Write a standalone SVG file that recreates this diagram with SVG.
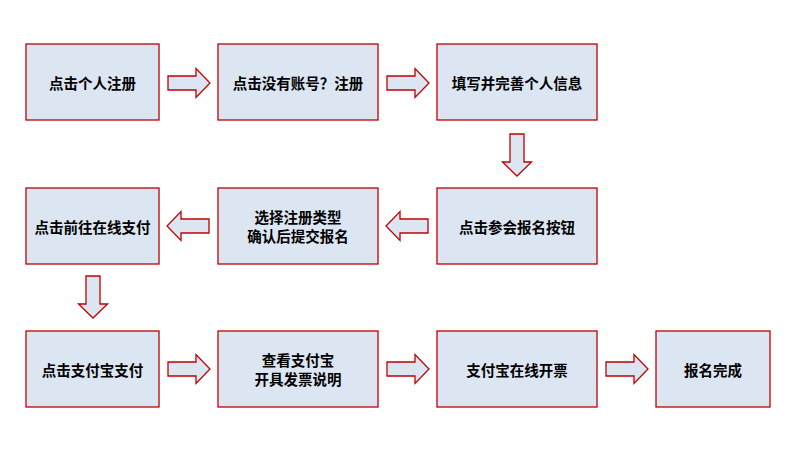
<svg xmlns="http://www.w3.org/2000/svg" xmlns:xlink="http://www.w3.org/1999/xlink" width="800" height="450" viewBox="0 0 800 450">
<style>
.box{fill:#dce6f2;stroke:#c00000;stroke-width:1.3}
.t{font-family:"Noto Sans CJK SC","Liberation Sans",sans-serif;font-size:14.5px;font-weight:bold;fill:#000;text-anchor:middle;dominant-baseline:central}
.arr{fill:#dce6f2;stroke:#c00000;stroke-width:1.3;stroke-linejoin:miter}
</style>
<defs>
<path id="ar" d="M0,-7 H28 V-14.5 L42,0 L28,14.5 V7 H0 Z"/>
</defs>
<rect width="800" height="450" fill="#fff"/>
<g id="connectors">
<use href="#ar" class="arr" transform="translate(168,83)"/>
<use href="#ar" class="arr" transform="translate(387,83)"/>
<use href="#ar" class="arr" transform="translate(517,134) rotate(90)"/>
<use href="#ar" class="arr" transform="translate(428,226) rotate(180)"/>
<use href="#ar" class="arr" transform="translate(209,226) rotate(180)"/>
<use href="#ar" class="arr" transform="translate(93,276) rotate(90)"/>
<use href="#ar" class="arr" transform="translate(168,369)"/>
<use href="#ar" class="arr" transform="translate(387,369)"/>
<use href="#ar" class="arr" transform="translate(606,369)"/>
</g>
<g id="n1"><rect class="box" x="26" y="44" width="133" height="76"/><text class="t" x="92.5" y="82">点击个人注册</text></g>
<g id="n2"><rect class="box" x="218" y="44" width="160" height="76"/><text class="t" x="298" y="82">点击没有账号？注册</text></g>
<g id="n3"><rect class="box" x="437" y="44" width="160" height="76"/><text class="t" x="517" y="82">填写并完善个人信息</text></g>
<g id="n4"><rect class="box" x="437" y="188" width="160" height="76"/><text class="t" x="517" y="226">点击参会报名按钮</text></g>
<g id="n5"><rect class="box" x="218" y="188" width="160" height="76"/><text class="t" x="298" y="216">选择注册类型</text><text class="t" x="298" y="235">确认后提交报名</text></g>
<g id="n6"><rect class="box" x="26" y="188" width="133" height="76"/><text class="t" x="92.5" y="226">点击前往在线支付</text></g>
<g id="n7"><rect class="box" x="26" y="331" width="133" height="76"/><text class="t" x="92.5" y="369">点击支付宝支付</text></g>
<g id="n8"><rect class="box" x="218" y="331" width="160" height="76"/><text class="t" x="298" y="359">查看支付宝</text><text class="t" x="298" y="378">开具发票说明</text></g>
<g id="n9"><rect class="box" x="437" y="331" width="160" height="76"/><text class="t" x="517" y="369">支付宝在线开票</text></g>
<g id="n10"><rect class="box" x="656" y="331" width="114" height="76"/><text class="t" x="713" y="369">报名完成</text></g>
</svg>
